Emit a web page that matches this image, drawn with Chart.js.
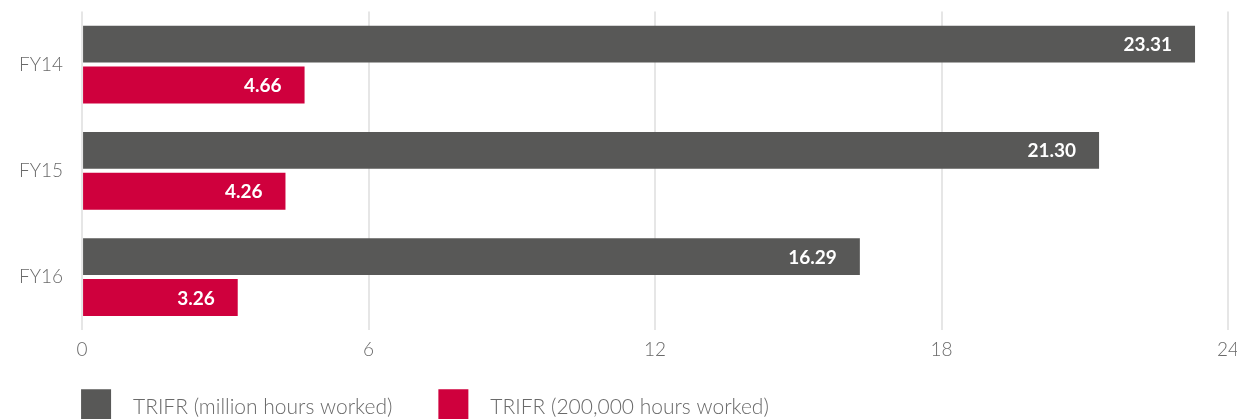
<!DOCTYPE html>
<html>
<head>
<meta charset="utf-8">
<script src="https://cdn.jsdelivr.net/npm/chart.js@4"></script>
<style>
  html, body { margin: 0; padding: 0; overflow: hidden; background: #fff; }
  #wrap { position: relative; width: 1247px; height: 480px; margin-top: -19px; }
</style>
</head>
<body>
<div id="wrap"><canvas id="trifrChart"></canvas></div>
<script>
var years = ['FY14', 'FY15', 'FY16'];
var trifrMillion = [23.31, 21.30, 16.29];
var trifr200k = [4.66, 4.26, 3.26];
var xTicks = [0, 6, 12, 18, 24];

var fontFamily = 'Lato, "Open Sans", sans-serif';

// white value labels at the inner end of each bar
var barValues = {
    id: 'barValues',
    afterDatasetsDraw: function (chart) {
        var ctx = chart.ctx;
        ctx.save();
        ctx.font = 'bold 19px ' + fontFamily;
        ctx.fillStyle = '#ffffff';
        ctx.textAlign = 'right';
        ctx.textBaseline = 'middle';
        chart.data.datasets.forEach(function (ds, i) {
            chart.getDatasetMeta(i).data.forEach(function (bar, j) {
                ctx.fillText(ds.data[j].toFixed(2), bar.x - 23, bar.y + 1);
            });
        });
        ctx.restore();
    }
};

// put the legend under the plot, lined up with the zero line
var legendPlace = {
    id: 'legendPlace',
    beforeDraw: function (chart) {
        var lg = chart.legend;
        var pad = lg.options.labels.padding;
        lg.left = chart.chartArea.left - 1 - pad;
        lg.top = chart.chartArea.bottom + 59 - pad;
    }
};

var ctx = document.getElementById('trifrChart').getContext('2d');
var chart = new Chart(ctx, {
    type: 'bar',
    data: {
        labels: years,
        datasets: [{
            label: 'TRIFR (million hours worked)',
            data: trifrMillion,
            backgroundColor: '#585857',
            categoryPercentage: 0.77,
            barPercentage: 0.9
        }, {
            label: 'TRIFR (200,000 hours worked)',
            data: trifr200k,
            backgroundColor: '#cf003d',
            categoryPercentage: 0.77,
            barPercentage: 0.9
        }]
    },
    options: {
        indexAxis: 'y',
        responsive: true,
        maintainAspectRatio: false,
        animation: false,
        layout: {
            padding: { top: 0, left: 0, right: 0, bottom: 0 }
        },
        scales: {
            x: {
                min: 0,
                max: 24,
                afterBuildTicks: function (axis) {
                    axis.ticks = xTicks.map(function (v) { return { value: v }; });
                },
                grid: { color: '#e6e6e6', lineWidth: 2, drawTicks: false },
                border: { display: false },
                ticks: {
                    color: '#6a6a6a',
                    padding: 8,
                    font: { family: fontFamily, size: 19, weight: '300' }
                }
            },
            y: {
                grid: { display: false, drawTicks: false },
                border: { display: false },
                ticks: {
                    color: '#6a6a6a',
                    padding: 19,
                    font: { family: fontFamily, size: 19, weight: '300' }
                }
            }
        },
        plugins: {
            tooltip: { enabled: false },
            legend: {
                position: 'bottom',
                align: 'start',
                labels: {
                    boxWidth: 30,
                    boxHeight: 36,
                    padding: 46,
                    color: '#6a6a6a',
                    font: { family: fontFamily, size: 21, weight: '300' },
                    generateLabels: function (chart) {
                        var items = Chart.defaults.plugins.legend.labels.generateLabels(chart);
                        items.forEach(function (it) { it.text = '  ' + it.text; });
                        return items;
                    }
                }
            }
        }
    },
    plugins: [barValues, legendPlace]
});
</script>
</body>
</html>
